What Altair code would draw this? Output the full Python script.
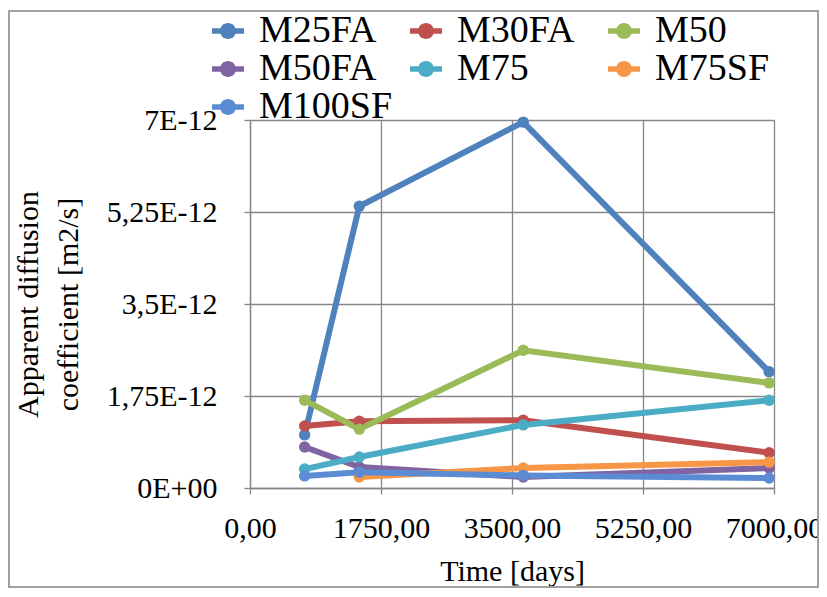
import altair as alt
import pandas as pd

# ---- data ----
days = [730, 1460, 3650, 6935]
series_names = ["M25FA", "M30FA", "M50", "M50FA", "M75", "M75SF", "M100SF"]
M25FA = [1.01e-12, 5.36e-12, 6.96e-12, 2.21e-12]
M30FA = [1.18e-12, 1.27e-12, 1.29e-12, 0.67e-12]
M50 = [1.67e-12, 1.12e-12, 2.62e-12, 2.00e-12]
M50FA = [0.78e-12, 0.40e-12, 0.21e-12, 0.38e-12]
M75 = [0.36e-12, 0.59e-12, 1.20e-12, 1.67e-12]
M75SF = [None, 0.21e-12, 0.38e-12, 0.49e-12]
M100SF = [0.23e-12, 0.30e-12, 0.24e-12, 0.19e-12]
series_colors = ["#4F81BD", "#C0504D", "#9BBB59", "#8064A2", "#4BACC6", "#F79646", "#5B8CD3"]
x_ticks = [0, 1750, 3500, 5250, 7000]
y_ticks = [0, 1.75e-12, 3.5e-12, 5.25e-12, 7e-12]

rows = []
for name, vals in zip(series_names, [M25FA, M30FA, M50, M50FA, M75, M75SF, M100SF]):
    for d, v in zip(days, vals):
        if v is not None:
            rows.append({"series": name, "days": d, "D": v})
df = pd.DataFrame(rows)

FONT = "Liberation Serif"
color_scale = alt.Scale(domain=series_names, range=series_colors)
x_enc = alt.X("days:Q", scale=alt.Scale(domain=[0, 7000], nice=False),
              axis=alt.Axis(values=x_ticks, title="Time [days]",
                            labelExpr="replace(format(datum.value, '.2f'), '.', ',')",
                            labelBaseline="alphabetic", labelPadding=43,
                            labelOverlap=False, labelFlush=False, labelBound=False,
                            titleX=262, titleY=92, titleBaseline="alphabetic",
                            titleAnchor="middle"))
y_enc = alt.Y("D:Q", scale=alt.Scale(domain=[0, 7e-12], nice=False, zero=True),
              axis=alt.Axis(values=y_ticks,
                            title=["Apparent diffusion", "coefficient [m2/s]"],
                            labelExpr="datum.value == 0 ? '0E+00' : replace(format(datum.value * 1e12, '.2~f'), '.', ',') + 'E-12'",
                            labelPadding=27, labelOverlap=False, labelFlush=False,
                            titleX=-213, titleY=184, titleBaseline="alphabetic",
                            titleAngle=-90, titleLineHeight=40, titleAlign="center"))

legend_symbol = ("M-0.5,0A0.5,0.5,0,1,1,0.5,0A0.5,0.5,0,1,1,-0.5,0Z"
                 "M0.45,-0.17H1V0.17H0.45Z"
                 "M-1,-0.17H-0.45V0.17H-1Z")

legend = alt.Legend(orient="none", legendX=-41, legendY=-108, columns=3, title=None,
                    direction="horizontal", gridAlign="all",
                    symbolType=legend_symbol, symbolSize=1024, symbolStrokeWidth=0,
                    symbolOpacity=1, labelFont=FONT, labelFontSize=38, labelOffset=12,
                    columnPadding=14, rowPadding=-2, padding=0, labelLimit=400,
                    labelColor="#000000")

base = alt.Chart(df)
lines = base.mark_line(strokeWidth=6, opacity=1).encode(
    x=x_enc, y=y_enc,
    color=alt.Color("series:N", scale=color_scale, legend=legend),
    detail="series:N",
)
points = base.mark_point(filled=True, size=130, opacity=1).encode(
    x="days:Q", y="D:Q",
    color=alt.Color("series:N", scale=color_scale, legend=legend),
)

border = alt.Chart(pd.DataFrame({"a": [0]})).mark_rect(
    fillOpacity=0, stroke="#A0A0A0", strokeWidth=2
).encode(x=alt.value(-241), x2=alt.value(568), y=alt.value(-109), y2=alt.value(467))

chart = alt.layer(border, lines, points).properties(
    width=524, height=368,
    padding={"left": 242, "top": 112, "right": 45, "bottom": 100},
    autosize=alt.AutoSizeParams(type="none"),
    background="white",
).configure(
    font=FONT,
    style={"guide-label": {"font": FONT}, "guide-title": {"font": FONT}},
).configure_axis(
    labelFont=FONT, labelFontSize=30, labelColor="#000000",
    titleFont=FONT, titleFontSize=30, titleColor="#000000", titleFontWeight="normal",
    domainColor="#868686", domainWidth=1.3, tickColor="#868686", tickWidth=1.3,
    tickSize=6, gridColor="#868686", gridWidth=1.3, grid=True,
).configure_legend(
    symbolType=legend_symbol, symbolStrokeWidth=0, symbolOpacity=1,
    labelFont=FONT, labelFontSize=38, direction="horizontal",
).configure_view(stroke=None)

chart.save("out.html", embed_options={"renderer": "svg", "actions": False})
